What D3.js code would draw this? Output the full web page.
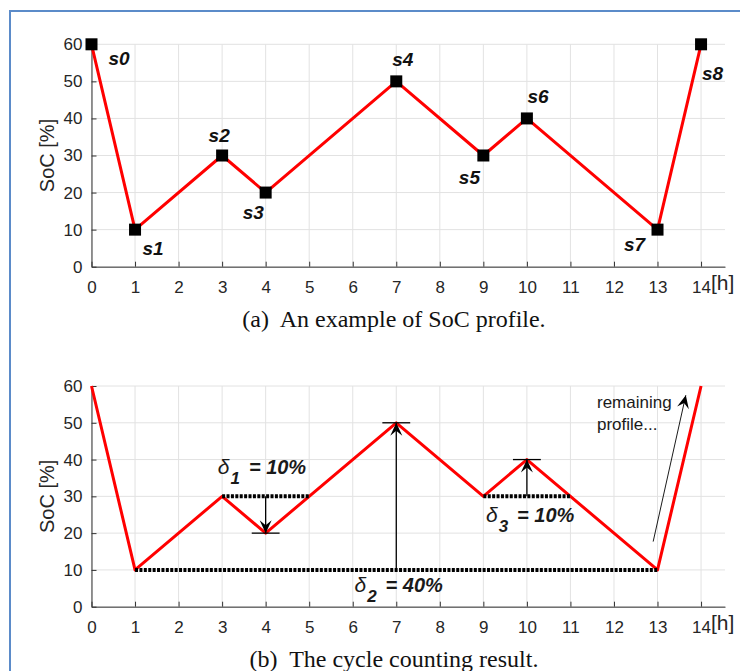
<!DOCTYPE html>
<html>
<head>
<meta charset="utf-8">
<script src="https://cdn.jsdelivr.net/npm/d3@7"></script>
<style>
  body { margin: 0; background: #fff; }
  svg { display: block; }
</style>
</head>
<body>
<div id="chart"></div>
<script>
// SoC profile (a) and cycle counting result (b)

// Data
var hours = [0, 1, 3, 4, 7, 9, 10, 13, 14];
var soc = [60, 10, 30, 20, 50, 30, 40, 10, 60];
var stateNames = ["s0", "s1", "s2", "s3", "s4", "s5", "s6", "s7", "s8"];
var xTicks = [0, 1, 2, 3, 4, 5, 6, 7, 8, 9, 10, 11, 12, 13, 14];
var yTicks = [0, 10, 20, 30, 40, 50, 60];

// cycles found by the counting (reference level, span, peak/valley)
var cycleLevel = [30, 10, 30];
var cycleFrom = [3, 1, 9];
var cycleTo = [5, 13, 11];
var cycleHour = [4, 7, 10];
var cycleExtreme = [20, 50, 40];
var cycleIndex = ["1", "2", "3"];
var cycleDepth = ["10%", "40%", "10%"];

var captionA = "(a)  An example of SoC profile.";
var captionB = "(b)  The cycle counting result.";

// Layout
var width = 740, height = 671;
var xMax = 14.55;
// label offsets (px) of s0..s8 relative to their marker
var labelDx = [17, 7.5, -13.5, -23, -4, -24.5, 0.5, -33.5, 1];
var labelDy = [20.7, 25.4, -13.8, 26.7, -15.4, 28.8, -15, 21, 35.7];
// delta labels anchor, in data units of panel (b)
var deltaX = [2.9, 6.04, 9.06];
var deltaY = [36.1, 4.0, 23.1];

var sans = "'Liberation Sans', Arial, Helvetica, sans-serif";
var serif = "'Liberation Serif', 'Times New Roman', serif";
var tickColor = "#262626";

var svg = d3.select("#chart").append("svg")
    .attr("width", width)
    .attr("height", height);

// Frame
svg.append("path")
    .attr("d", "M10," + height + "V11H" + width)
    .style("fill", "none")
    .style("stroke", "#5b8bc9")
    .style("stroke-width", 2);

var panels = [
  { top: 44.3, bottom: 266.7, caption: captionA, captionY: 327 },
  { top: 386, bottom: 606.7, caption: captionB, captionY: 667 }
];

panels.forEach(function(p, k) {
  var x = d3.scaleLinear().domain([0, xMax]).range([91.5, 725]);
  var y = d3.scaleLinear().domain([0, 60]).range([p.bottom, p.top]);
  p.x = x; p.y = y;
  var g = svg.append("g");
  p.g = g;

  // Grid
  g.selectAll(".vgrid")
    .data(xTicks)
    .enter().append("line")
    .attr("x1", function(d) { return x(d); })
    .attr("x2", function(d) { return x(d); })
    .attr("y1", y(0))
    .attr("y2", y(60))
    .style("stroke", "#e2e2e2")
    .style("stroke-width", 1);

  g.selectAll(".hgrid")
    .data(yTicks)
    .enter().append("line")
    .attr("x1", x(0))
    .attr("x2", x(xMax))
    .attr("y1", function(d) { return y(d); })
    .attr("y2", function(d) { return y(d); })
    .style("stroke", "#e2e2e2")
    .style("stroke-width", 1);

  // Axes
  var xAxis = g.append("g")
    .attr("transform", "translate(0," + y(0) + ")")
    .call(d3.axisBottom(x).tickValues(xTicks).tickFormat(d3.format("d"))
      .tickSizeInner(-5).tickSizeOuter(0).tickPadding(14));

  var yAxis = g.append("g")
    .attr("transform", "translate(" + x(0) + ",0)")
    .call(d3.axisLeft(y).tickValues(yTicks)
      .tickSizeInner(-5).tickSizeOuter(0).tickPadding(9));

  [xAxis, yAxis].forEach(function(a) {
    a.select(".domain").style("stroke", "#333");
    a.selectAll(".tick line").style("stroke", "#333");
    a.selectAll("text")
      .style("font-family", sans)
      .style("font-size", "17px")
      .style("fill", tickColor);
  });

  g.append("text")
    .attr("x", 711)
    .attr("y", y(0) + 23)
    .style("font-family", sans)
    .style("font-size", "21px")
    .style("fill", tickColor)
    .text("[h]");

  g.append("text")
    .attr("transform", "translate(47," + (p.top + p.bottom) / 2 + ") rotate(-90)")
    .attr("dy", "0.35em")
    .style("text-anchor", "middle")
    .style("font-family", sans)
    .style("font-size", "20px")
    .style("fill", tickColor)
    .text("SoC [%]");

  // Profile
  var line = d3.line()
    .x(function(d) { return x(d); })
    .y(function(d, i) { return y(soc[i]); });

  g.append("path")
    .datum(hours)
    .attr("d", line)
    .style("fill", "none")
    .style("stroke", "#ff0000")
    .style("stroke-width", 3)
    .style("stroke-linejoin", "round");

  // Caption
  svg.append("text")
    .attr("x", 394)
    .attr("y", p.captionY)
    .style("text-anchor", "middle")
    .style("font-family", serif)
    .style("font-size", "24px")
    .style("fill", "#111")
    .style("white-space", "pre")
    .text(p.caption);
});

// Panel (a): states
var pa = panels[0];
pa.g.selectAll(".state")
  .data(hours)
  .enter().append("rect")
  .attr("x", function(d) { return pa.x(d) - 6; })
  .attr("y", function(d, i) { return pa.y(soc[i]) - 6; })
  .attr("width", 12)
  .attr("height", 12)
  .style("fill", "#000");

pa.g.selectAll(".stateLabel")
  .data(hours)
  .enter().append("text")
  .attr("x", function(d, i) { return pa.x(d) + labelDx[i]; })
  .attr("y", function(d, i) { return pa.y(soc[i]) + labelDy[i]; })
  .style("font-family", sans)
  .style("font-size", "19px")
  .style("font-weight", "bold")
  .style("font-style", "italic")
  .style("fill", "#111")
  .text(function(d, i) { return stateNames[i]; });

// Panel (b): cycle counting
var pb = panels[1];

function arrowHead(g, tx, ty, angle) {
  g.append("path")
    .attr("d", "M0,0L-13,-6L-8,0L-13,6Z")
    .attr("transform", "translate(" + tx + "," + ty + ") rotate(" + angle + ")")
    .style("fill", "#000");
}

cycleLevel.forEach(function(level, i) {
  // reference level (dotted)
  pb.g.append("line")
    .attr("x1", pb.x(cycleFrom[i]))
    .attr("x2", pb.x(cycleTo[i]))
    .attr("y1", pb.y(level))
    .attr("y2", pb.y(level))
    .style("stroke", "#000")
    .style("stroke-width", 4)
    .style("stroke-dasharray", "3,1.4");

  // depth arrow
  var ax = pb.x(cycleHour[i]);
  var y0 = pb.y(level), y1 = pb.y(cycleExtreme[i]);
  pb.g.append("line")
    .attr("x1", ax).attr("x2", ax)
    .attr("y1", y0).attr("y2", y1)
    .style("stroke", "#000")
    .style("stroke-width", 1.3);
  arrowHead(pb.g, ax, y1, y1 > y0 ? 90 : -90);

  pb.g.append("line")
    .attr("x1", pb.x(cycleHour[i] - 0.32))
    .attr("x2", pb.x(cycleHour[i] + 0.32))
    .attr("y1", y1).attr("y2", y1)
    .style("stroke", "#000")
    .style("stroke-width", 1.3);

  // delta label
  var t = pb.g.append("text")
    .attr("x", pb.x(deltaX[i]))
    .attr("y", pb.y(deltaY[i]))
    .style("font-family", sans)
    .style("fill", "#1a1a1a");
  t.append("tspan")
    .style("font-size", "21px")
    .style("font-style", "italic")
    .text("δ");
  t.append("tspan")
    .attr("dx", 1)
    .attr("dy", 10)
    .style("font-size", "17px")
    .style("font-weight", "bold")
    .style("font-style", "italic")
    .text(cycleIndex[i]);
  t.append("tspan")
    .attr("dx", 9)
    .attr("dy", -10)
    .style("font-size", "20px")
    .style("font-weight", "bold")
    .style("font-style", "italic")
    .text("= " + cycleDepth[i]);
});

// Remaining profile note
pb.g.append("line")
  .attr("x1", pb.x(12.9)).attr("y1", pb.y(17.7))
  .attr("x2", pb.x(13.65)).attr("y2", pb.y(57.5))
  .style("stroke", "#000")
  .style("stroke-width", 0.9);
arrowHead(pb.g, pb.x(13.65), pb.y(57.5),
  Math.atan2(pb.y(57.5) - pb.y(17.7), pb.x(13.65) - pb.x(12.9)) * 180 / Math.PI);

pb.g.append("text")
  .attr("x", 597)
  .attr("y", 408)
  .style("font-family", sans)
  .style("font-size", "17px")
  .style("fill", "#1a1a1a")
  .selectAll("tspan")
  .data(["remaining", "profile..."])
  .enter().append("tspan")
  .attr("x", 597)
  .attr("dy", function(d, i) { return i ? 22 : 0; })
  .text(function(d) { return d; });
</script>
</body>
</html>
